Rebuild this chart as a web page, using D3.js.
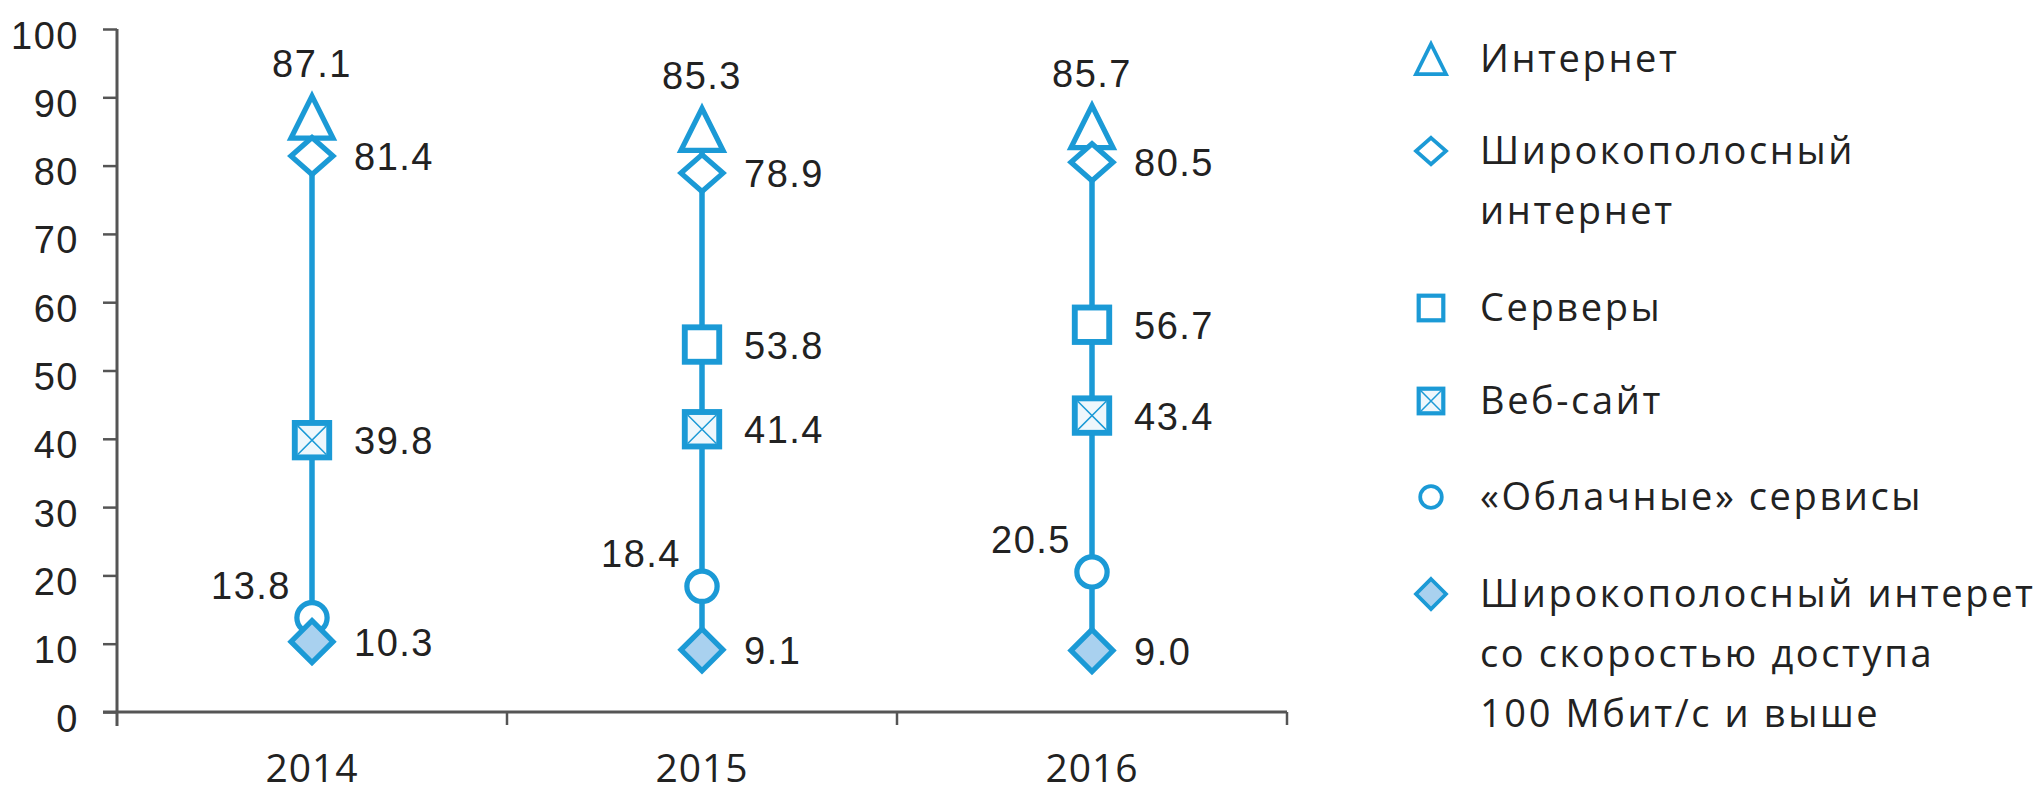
<!DOCTYPE html>
<html>
<head>
<meta charset="utf-8">
<script src="https://cdn.jsdelivr.net/npm/d3@7"></script>
<style>
  body { margin: 0; background: #fff; }
  svg { display: block; }
</style>
</head>
<body>
<svg></svg>
<script>
const WIDTH = 2044;
const HEIGHT = 793;

// data
const years = ['2014', '2015', '2016'];
const seriesNames = ['Интернет', 'Широкополосный интернет', 'Серверы', 'Веб-сайт',
    '«Облачные» сервисы', 'Широкополосный интерет со скоростью доступа 100 Мбит/с и выше'];
const internet = [87.1, 85.3, 85.7];
const broadband = [81.4, 78.9, 80.5];
const servers = [null, 53.8, 56.7];
const website = [39.8, 41.4, 43.4];
const cloud = [13.8, 18.4, 20.5];
const fastBroadband = [10.3, 9.1, 9.0];
const yTicks = [0, 10, 20, 30, 40, 50, 60, 70, 80, 90, 100];
const legendLines = [
    ['Интернет'],
    ['Широкополосный', 'интернет'],
    ['Серверы'],
    ['Веб-сайт'],
    ['«Облачные» сервисы'],
    ['Широкополосный интерет', 'со скоростью доступа', '100 Мбит/с и выше']
];

const BLUE = '#1b9ad6';
const LIGHT = '#a9d1ef';
const INK = '#222';
const AXIS = '#555';
const NUM_FONT = '"Liberation Sans Narrow", "Arial Narrow", "Liberation Sans", sans-serif';
const TXT_FONT = '"Open Sans", "Noto Sans", sans-serif';

// marker kind + where its label goes
const series = [
    {name: seriesNames[0], values: internet, shape: 'triangle', label: 'top'},
    {name: seriesNames[1], values: broadband, shape: 'diamond', label: 'right'},
    {name: seriesNames[2], values: servers, shape: 'square', label: 'right'},
    {name: seriesNames[3], values: website, shape: 'crossed', label: 'right'},
    {name: seriesNames[4], values: cloud, shape: 'circle', label: 'left'},
    {name: seriesNames[5], values: fastBroadband, shape: 'filled', label: 'right'}
];

let svg = d3.select('svg')
    .attr('width', WIDTH)
    .attr('height', HEIGHT);

let x = d3.scaleBand()
    .domain(years)
    .range([117, 1287]);

let y = d3.scaleLinear()
    .domain([0, 100])
    .range([712, 29]);

// y axis
let yAxis = svg.append('g')
    .attr('transform', 'translate(117,0)')
    .call(d3.axisLeft(y).tickValues(yTicks).tickSize(14).tickSizeOuter(0).tickPadding(24));
yAxis.select('.domain').remove();
yAxis.selectAll('line').attr('stroke', AXIS).attr('stroke-width', 2.5);
yAxis.selectAll('text')
    .attr('dy', '0.5em')
    .style('font-family', NUM_FONT)
    .style('font-size', '38px')
    .style('letter-spacing', '1.5px')
    .attr('fill', INK);

svg.append('line')
    .attr('x1', 117).attr('x2', 117)
    .attr('y1', y(100)).attr('y2', y(0) + 14)
    .attr('stroke', AXIS).attr('stroke-width', 3);

// x axis: base line, boundary ticks, year labels
svg.append('line')
    .attr('x1', 103).attr('x2', x.range()[1])
    .attr('y1', y(0)).attr('y2', y(0))
    .attr('stroke', AXIS).attr('stroke-width', 3);

let bounds = years.map(d => x(d)).concat([x(years[years.length - 1]) + x.bandwidth()]);
svg.append('g').selectAll('line')
    .data(bounds.slice(1))
    .enter()
    .append('line')
        .attr('x1', d => d).attr('x2', d => d)
        .attr('y1', y(0)).attr('y2', y(0) + 13)
        .attr('stroke', AXIS).attr('stroke-width', 2.5);

svg.append('g').selectAll('text')
    .data(years)
    .enter()
    .append('text')
        .attr('x', d => x(d) + x.bandwidth() / 2)
        .attr('y', 782)
        .attr('text-anchor', 'middle')
        .style('font-family', TXT_FONT)
        .style('font-size', '39px')
        .style('letter-spacing', '1px')
        .attr('fill', INK)
        .text(d => d);

// marker drawing
function drawMarker(g, shape, s) {
    // s = half size
    if (shape === 'triangle') {
        g.append('path')
            .attr('d', `M0,${-s}L${s},${s}L${-s},${s}Z`)
            .attr('fill', '#fff').attr('stroke', BLUE).attr('stroke-width', s * 0.25)
            .attr('stroke-linejoin', 'miter');
    } else if (shape === 'diamond' || shape === 'filled') {
        let h = shape === 'filled' ? s : s * 0.88;
        g.append('path')
            .attr('d', `M0,${-h}L${s},0L0,${h}L${-s},0Z`)
            .attr('fill', shape === 'filled' ? LIGHT : '#fff')
            .attr('stroke', BLUE).attr('stroke-width', s * 0.25);
    } else if (shape === 'square' || shape === 'crossed') {
        let a = s * 0.82;
        g.append('rect')
            .attr('x', -a).attr('y', -a).attr('width', 2 * a).attr('height', 2 * a)
            .attr('fill', shape === 'crossed' ? '#eef7fc' : '#fff')
            .attr('stroke', BLUE).attr('stroke-width', s * 0.28);
        if (shape === 'crossed') {
            let b = a - s * 0.14;
            g.append('path')
                .attr('d', `M${-b},${-b}L${b},${b}M${b},${-b}L${-b},${b}`)
                .attr('stroke', BLUE).attr('stroke-width', 1.5);
        }
    } else if (shape === 'circle') {
        g.append('circle')
            .attr('r', s * 0.72)
            .attr('fill', '#fff').attr('stroke', BLUE).attr('stroke-width', s * 0.25);
    }
}

// vertical connecting lines
let columns = years.map((yr, i) => {
    let vals = series.map(s => s.values[i]).filter(v => v != null);
    return {year: yr, max: d3.max(vals), min: d3.min(vals)};
});
svg.append('g').selectAll('line')
    .data(columns)
    .enter()
    .append('line')
        .attr('x1', d => x(d.year) + x.bandwidth() / 2)
        .attr('x2', d => x(d.year) + x.bandwidth() / 2)
        .attr('y1', d => y(d.max))
        .attr('y2', d => y(d.min))
        .attr('stroke', BLUE)
        .attr('stroke-width', 5.5);

// points and value labels
let points = [];
series.forEach(s => {
    s.values.forEach((v, i) => {
        if (v != null) points.push({shape: s.shape, label: s.label, year: years[i], value: v});
    });
});

let pointG = svg.append('g').selectAll('g')
    .data(points)
    .enter()
    .append('g')
        .attr('transform', d => `translate(${x(d.year) + x.bandwidth() / 2},${y(d.value)})`);
pointG.each(function(d) { drawMarker(d3.select(this), d.shape, 21); });

svg.append('g').selectAll('text')
    .data(points)
    .enter()
    .append('text')
        .attr('x', d => {
            let cx = x(d.year) + x.bandwidth() / 2;
            if (d.label === 'right') return cx + 42;
            if (d.label === 'left') return cx - 21;
            return cx;
        })
        .attr('y', d => {
            let cy = y(d.value);
            if (d.label === 'top') return cy - 40;
            if (d.label === 'left') return cy - 19;
            return cy + 14;
        })
        .attr('text-anchor', d => d.label === 'right' ? 'start' : d.label === 'left' ? 'end' : 'middle')
        .style('font-family', NUM_FONT)
        .style('font-size', '38px')
        .style('letter-spacing', '1.5px')
        .attr('fill', INK)
        .text(d => d.value.toFixed(1));

// legend
const legendY = [59, 151, 308, 401, 497, 594];
let legend = svg.append('g').selectAll('g')
    .data(series)
    .enter()
    .append('g')
        .attr('transform', (d, i) => `translate(1431,${legendY[i]})`);
legend.each(function(d) { drawMarker(d3.select(this), d.shape, 15); });
legend.append('text')
    .attr('x', 49)
    .attr('y', 13)
    .style('font-family', TXT_FONT)
    .style('font-size', '38px')
    .style('letter-spacing', '2.6px')
    .attr('fill', INK)
    .selectAll('tspan')
    .data((d, i) => legendLines[i])
    .enter()
    .append('tspan')
        .attr('x', 49)
        .attr('dy', (d, j) => j === 0 ? 0 : 60)
        .text(d => d);
</script>
</body>
</html>
